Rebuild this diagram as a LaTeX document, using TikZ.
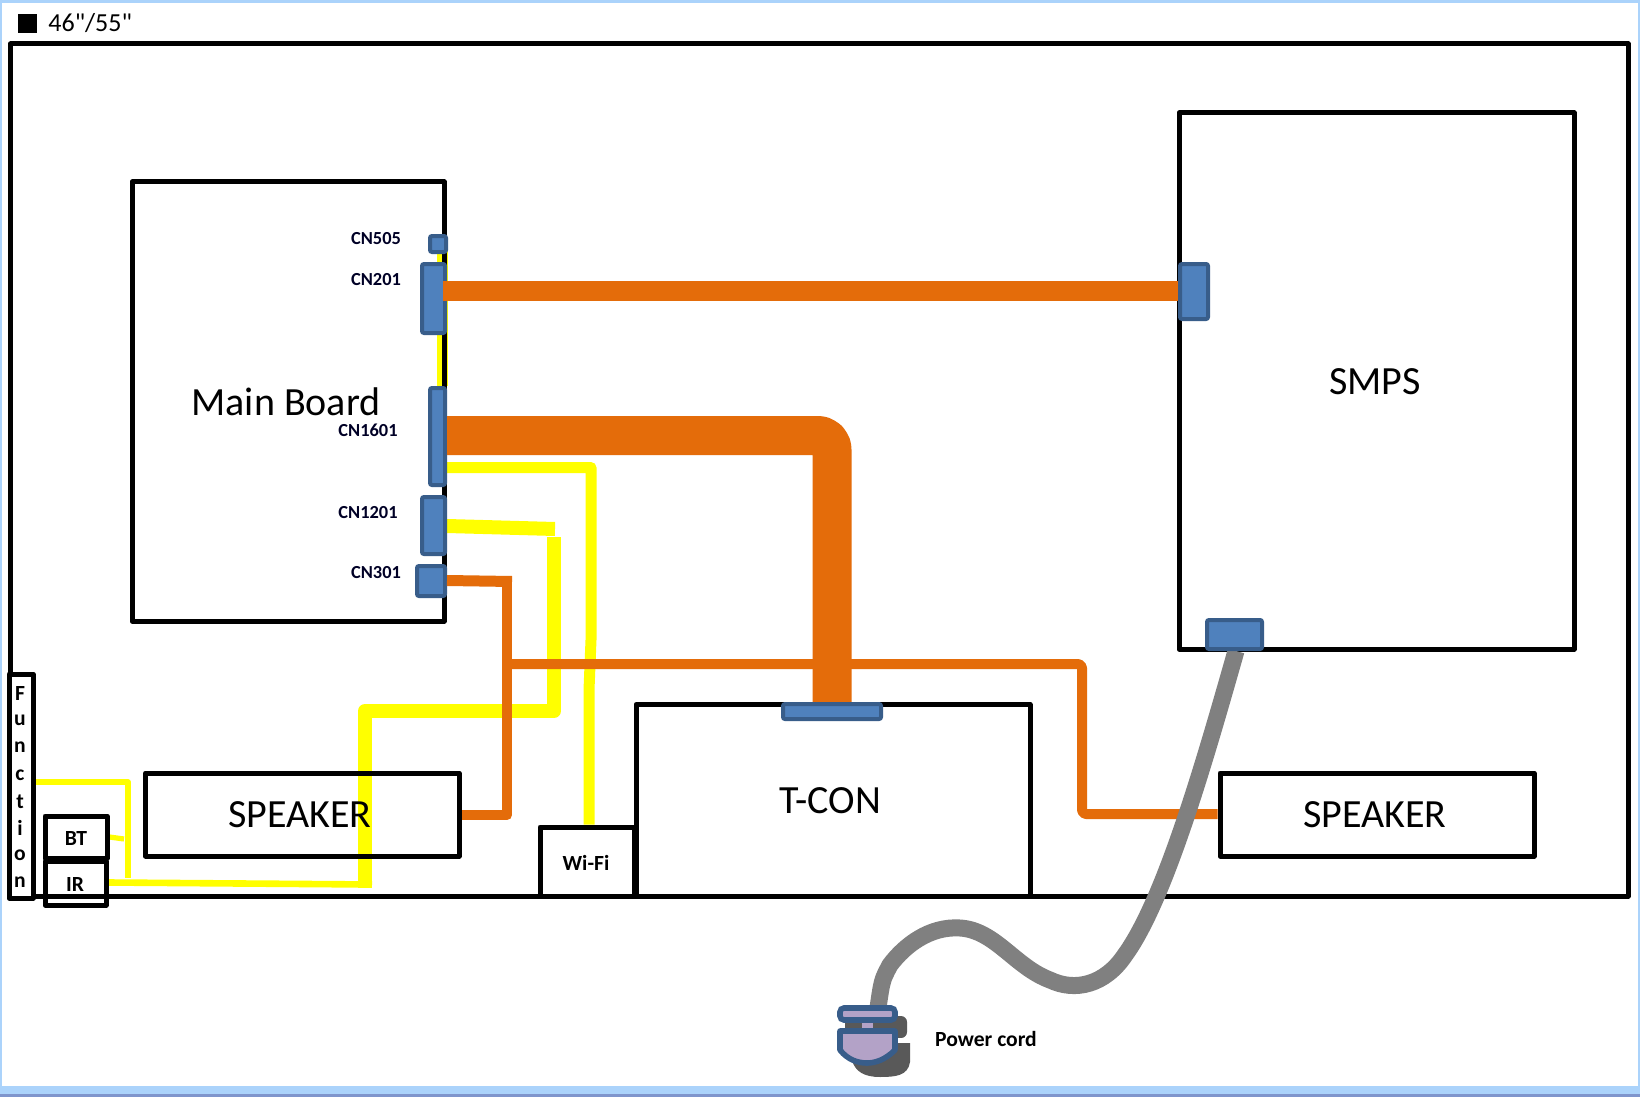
\documentclass[tikz,border=0pt]{standalone}
\usepackage{fontspec}
\setmainfont{Carlito}
\newfontfamily\rawcarlito{Carlito}
\usetikzlibrary{calc}
\pgfdeclarelayer{paperlayer}
\pgfdeclarelayer{yellowlayer}
\pgfdeclarelayer{boxlayer}
\pgfdeclarelayer{toplayer}
\pgfsetlayers{paperlayer,yellowlayer,boxlayer,main,toplayer}
\definecolor{wireyellow}{RGB}{255,255,0}
\definecolor{wireorange}{HTML}{E46C0A}
\definecolor{connblue}{HTML}{4F81BD}
\definecolor{connedge}{HTML}{385D8A}
\definecolor{plugfill}{HTML}{B3A2C7}
\definecolor{shadowgrey}{HTML}{595959}
\definecolor{cordgrey}{HTML}{808080}
\definecolor{winblue}{HTML}{ABD3FB}
\definecolor{windark}{HTML}{7F95CC}
\newcommand{\pxbox}[7][]{%
  \pgfmathsetlengthmacro{\pxw}{(#5-#3)*0.5pt}%
  \pgfmathsetlengthmacro{\pxh}{(#6-#4)*0.5pt}%
  \node[#1,minimum width=\pxw,minimum height=\pxh] (#2) at ({(#3+#5)/2},{(#4+#6)/2}) {#7};}
\tikzset{
  x=0.5pt,y=-0.5pt,
  blackbox/.style={draw=black,line width=2.5pt,inner sep=0pt,line join=round},
  connbox/.style={draw=connedge,fill=connblue,line width=2pt,inner sep=0pt,rounded corners=1pt},
  bigtext/.style={font=\fontsize{20}{20}\selectfont,inner sep=0pt},
  cntext/.style={font=\fontsize{9.2}{10}\selectfont\bfseries,text=black!85!blue,inner sep=0pt},
  smalltext/.style={font=\fontsize{10.8}{11}\selectfont\bfseries,inner sep=0pt},
  ywire/.style={draw=wireyellow,line join=round},
  owire/.style={draw=wireorange,line join=round},
}
\begin{document}
\begin{tikzpicture}
\useasboundingbox (0,0) rectangle (1640,1097);
\begin{pgfonlayer}{paperlayer}
\fill[white] (0,0) rectangle (1640,1097);
\fill[winblue] (0,0) rectangle (1640,3);
\fill[winblue] (0,0) rectangle (2,1097);
\fill[winblue] (1638,0) rectangle (1640,1097);
\fill[winblue] (0,1086) rectangle (1640,1094);
\fill[windark] (0,1094) rectangle (1640,1097);
\end{pgfonlayer}

\fill[black] (18,14) rectangle (37,33);
\node[font=\fontsize{13}{14}\selectfont\rawcarlito,inner sep=0pt,anchor=west] (title) at (48,23) {46"/55"};

\begin{pgfonlayer}{boxlayer}
\pxbox[blackbox]{frame}{10.5}{44}{1628}{896}{}
\pxbox[blackbox]{mainb}{132}{182}{444}{621}{}
\pxbox[blackbox]{smps}{1179}{113}{1574}{649}{}
\pxbox[blackbox]{tcon}{636}{704.5}{1030}{896}{}
\pxbox[blackbox]{spkl}{145.5}{773}{459}{856}{}
\pxbox[blackbox]{spkr}{1220}{773}{1534}{856}{}
\pxbox[blackbox]{wifi}{540}{827}{634}{896}{}
\pxbox[blackbox,fill=white]{func}{9}{674}{33}{898}{}
\pxbox[blackbox]{bt}{45}{816}{107}{858}{}
\pxbox[blackbox]{ir}{45}{861}{106}{905}{}
\pxbox[connbox]{cnfive}{430}{236}{446}{252}{}
\pxbox[connbox]{cntwo}{422}{264}{445}{333}{}
\pxbox[connbox]{cnsixteen}{430}{388}{445}{485}{}
\pxbox[connbox]{cntwelve}{422}{497}{445}{554}{}
\pxbox[connbox]{cnthree}{417}{566}{445}{596}{}
\end{pgfonlayer}
\begin{pgfonlayer}{toplayer}
\pxbox[connbox]{smpsa}{1180}{264}{1208}{319}{}
\pxbox[connbox]{smpsb}{1207}{620}{1262}{649}{}
\pxbox[connbox]{tconc}{783}{704}{881}{719}{}
\node[bigtext] (tmain) at (286,402) {Main Board};
\node[bigtext] (tsmps) at (1375,382) {SMPS};
\node[bigtext] (ttcon) at (830,801) {T-CON};
\node[bigtext] (tspkl) at (300,815) {SPEAKER};
\node[bigtext] (tspkr) at (1375,815) {SPEAKER};
\node[smalltext] (twifi) at (586,863) {Wi-Fi};
\node[smalltext] (tpower) at (986,1038.5) {Power cord};
\node[smalltext] (tbt) at (76,838) {BT};
\node[smalltext] (tir) at (75,884) {IR};
\node[cntext] (tfive) at (376,239) {CN505};
\node[cntext] (ttwo) at (376,280) {CN201};
\node[cntext] (tsixteen) at (368,430) {CN1601};
\node[cntext] (ttwelve) at (368,513) {CN1201};
\node[cntext] (tthree) at (376,573) {CN301};
\node[smalltext] (f1) at (20,693) {F};
\node[smalltext] (f2) at (20,720) {u};
\node[smalltext] (f3) at (20,747) {n};
\node[smalltext] (f4) at (20,775) {c};
\node[smalltext] (f5) at (20,802) {t};
\node[smalltext] (f6) at (20,828) {i};
\node[smalltext] (f7) at (20,855) {o};
\node[smalltext] (f8) at (20,882) {n};
\end{pgfonlayer}

% yellow wires, beneath the boxes
\begin{pgfonlayer}{yellowlayer}
\coordinate (yedge) at (442.5,243);
\draw[ywire,line width=5.5pt] (yedge) -- (cnsixteen.north -| yedge);
\draw[ywire,line width=5.5pt] (cnsixteen.east |- 0,467.5) -- (591,467.5) -- (591,640) -- (589,690) -- (wifi.north -| 589,0);
\coordinate (ya) at (555,529);
\draw[ywire,line width=7pt] (cntwelve.east |- 0,526) -- (ya);
\draw[ywire,line width=7pt] (554,537) -- (554,711) -- (365,711) -- (365,888);
\draw[ywire,line width=3.3pt] (ir.east |- 0,882.5) -- (372,884.5);
\draw[ywire,line width=2.6pt] (func.east |- 0,782) -- (128,782) -- (128,878);
\draw[ywire,line width=2.6pt] (bt.east |- 0,837) -- (124,839);
\end{pgfonlayer}

% orange wires
\draw[owire,line width=10pt] (443,290.5) -- (smpsa.west |- 0,290.5);
\draw[owire,line width=19.5pt,rounded corners=7pt] (cnsixteen.east |- 0,435.5) -- (832,435.5) -- (tconc.north -| 832,0);
\draw[owire,line width=5.5pt] (cnthree.east |- 0,580.5) -- (512,581.5);
\draw[owire,line width=5pt] (507,587) -- (507,815) -- (spkl.east |- 0,815);
\draw[owire,line width=5pt,rounded corners=2pt] (507,664) -- (1082,664) -- (1082,814) -- (spkr.west |- 0,814);

% power cord and plug
\draw[cordgrey,line width=8.5pt] (smpsb.south -| 1236,0) .. controls (1205,760) and (1165,900) .. (1125,955)
  .. controls (1105,985) and (1075,992) .. (1050,980)
  .. controls (1015,967) and (995,930) .. (960,928)
  .. controls (930,926) and (905,945) .. (890,965)
  .. controls (882,980) .. (878,1008);
\fill[shadowgrey,rounded corners=3pt] (880,1016) rectangle (907,1038);
\fill[shadowgrey] (853,1043) -- (910,1043) -- (910,1062) .. controls (908,1076) and (895,1077) .. (880,1077) .. controls (865,1077) and (855,1072) .. (852,1060) -- cycle;
\fill[white] (890,1038) rectangle (912,1043);
\fill[shadowgrey] (845,1023) rectangle (890,1029);
\draw[connedge,fill=plugfill,line width=2.8pt,rounded corners=2pt] (840,1008) rectangle (895,1020);
\fill[plugfill] (862,1023) rectangle (873,1029);
\draw[connedge,fill=plugfill,line width=2.8pt,line join=round] (840,1031) -- (895,1031) -- (895,1050) .. controls (885,1060) and (875,1063) .. (867,1063) .. controls (858,1063) and (848,1060) .. (840,1050) -- cycle;
\end{tikzpicture}
\end{document}
